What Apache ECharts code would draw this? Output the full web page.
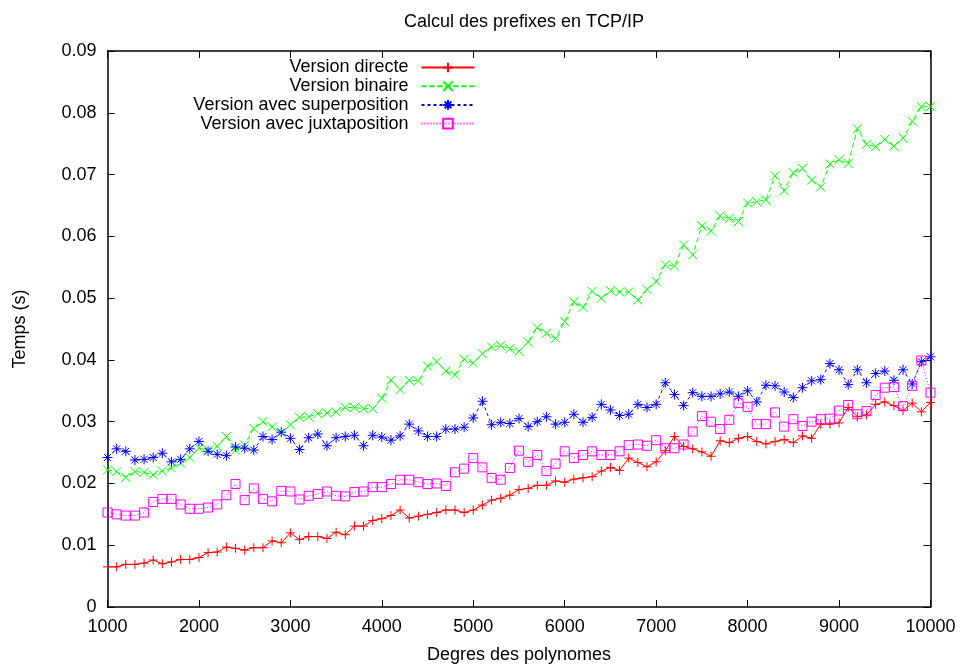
<!DOCTYPE html>
<html>
<head>
<meta charset="utf-8">
<script src="https://cdn.jsdelivr.net/npm/echarts@6/dist/echarts.min.js"></script>
<style>html,body{margin:0;padding:0;background:#fff;}#c{width:962px;height:669px;}</style>
</head>
<body>
<div id="c"></div>
<script>
const titleText = 'Calcul des prefixes en TCP/IP';
const xAxisName = 'Degres des polynomes';
const yAxisName = 'Temps (s)';
const seriesNames = ['Version directe', 'Version binaire', 'Version avec superposition', 'Version avec juxtaposition'];
const yTickLabels = ['0', '0.01', '0.02', '0.03', '0.04', '0.05', '0.06', '0.07', '0.08', '0.09'];
const xTickLabels = ['1000', '2000', '3000', '4000', '5000', '6000', '7000', '8000', '9000', '10000'];

const degrees = [
  1000,1100,1200,1300,1400,1500,1600,1700,1800,1900,
  2000,2100,2200,2300,2400,2500,2600,2700,2800,2900,
  3000,3100,3200,3300,3400,3500,3600,3700,3800,3900,
  4000,4100,4200,4300,4400,4500,4600,4700,4800,4900,
  5000,5100,5200,5300,5400,5500,5600,5700,5800,5900,
  6000,6100,6200,6300,6400,6500,6600,6700,6800,6900,
  7000,7100,7200,7300,7400,7500,7600,7700,7800,7900,
  8000,8100,8200,8300,8400,8500,8600,8700,8800,8900,
  9000,9100,9200,9300,9400,9500,9600,9700,9800,9900,
  10000
];

const directe = [
  0.0065,0.0065,0.0069,0.0069,0.0071,0.0076,0.0070,0.0073,0.0077,0.0077,
  0.0080,0.0088,0.0089,0.0097,0.0095,0.0092,0.0096,0.0096,0.0107,0.0104,
  0.0120,0.0109,0.0114,0.0114,0.0111,0.0121,0.0117,0.0131,0.0131,0.0140,
  0.0143,0.0148,0.0157,0.0144,0.0147,0.0150,0.0153,0.0157,0.0157,0.0153,
  0.0157,0.0165,0.0173,0.0176,0.0181,0.0190,0.0192,0.0197,0.0197,0.0204,
  0.0202,0.0207,0.0209,0.0211,0.0220,0.0226,0.0221,0.0241,0.0234,0.0227,
  0.0235,0.0253,0.0276,0.0260,0.0256,0.0251,0.0244,0.0269,0.0266,0.0273,
  0.0276,0.0268,0.0264,0.0268,0.0271,0.0266,0.0277,0.0273,0.0296,0.0296,
  0.0298,0.0323,0.0308,0.0311,0.0328,0.0332,0.0326,0.0318,0.0330,0.0316,
  0.0331
];

const binaire = [
  0.0222,0.0219,0.0210,0.0219,0.0218,0.0214,0.0220,0.0225,0.0233,0.0242,
  0.0257,0.0254,0.0260,0.0276,0.0254,0.0262,0.0289,0.0300,0.0292,0.0282,
  0.0295,0.0307,0.0308,0.0313,0.0314,0.0316,0.0323,0.0323,0.0321,0.0321,
  0.0338,0.0367,0.0352,0.0367,0.0366,0.0390,0.0397,0.0382,0.0376,0.0401,
  0.0395,0.0410,0.0421,0.0423,0.0418,0.0414,0.0429,0.0452,0.0443,0.0435,
  0.0462,0.0494,0.0485,0.0511,0.0500,0.0512,0.0510,0.0510,0.0497,0.0514,
  0.0527,0.0554,0.0552,0.0586,0.0570,0.0617,0.0609,0.0633,0.0629,0.0624,
  0.0654,0.0656,0.0659,0.0698,0.0674,0.0703,0.0710,0.0691,0.0680,0.0717,
  0.0724,0.0718,0.0774,0.0749,0.0745,0.0757,0.0746,0.0759,0.0786,0.0810,
  0.0810
];

const superposition = [
  0.0242,0.0256,0.0252,0.0238,0.0239,0.0242,0.0249,0.0235,0.0239,0.0256,
  0.0268,0.0252,0.0247,0.0245,0.0259,0.0257,0.0254,0.0276,0.0271,0.0283,
  0.0273,0.0255,0.0274,0.0280,0.0261,0.0274,0.0276,0.0278,0.0261,0.0278,
  0.0275,0.0270,0.0277,0.0296,0.0285,0.0276,0.0276,0.0288,0.0288,0.0291,
  0.0306,0.0333,0.0295,0.0299,0.0297,0.0305,0.0292,0.0300,0.0308,0.0296,
  0.0299,0.0312,0.0299,0.0307,0.0328,0.0319,0.0310,0.0312,0.0328,0.0323,
  0.0328,0.0363,0.0344,0.0326,0.0347,0.0341,0.0341,0.0345,0.0348,0.0341,
  0.0350,0.0332,0.0359,0.0358,0.0348,0.0339,0.0355,0.0366,0.0368,0.0394,
  0.0384,0.0360,0.0384,0.0363,0.0378,0.0382,0.0367,0.0384,0.0361,0.0397,
  0.0405
];

const juxtaposition = [
  0.0153,0.0150,0.0148,0.0148,0.0153,0.0170,0.0175,0.0175,0.0166,0.0159,
  0.0159,0.0161,0.0166,0.0181,0.0199,0.0173,0.0192,0.0175,0.0171,0.0188,
  0.0187,0.0174,0.0180,0.0183,0.0187,0.0180,0.0179,0.0186,0.0187,0.0194,
  0.0194,0.0199,0.0206,0.0206,0.0202,0.0199,0.0200,0.0196,0.0218,0.0224,
  0.0241,0.0226,0.0209,0.0206,0.0225,0.0253,0.0235,0.0246,0.0220,0.0232,
  0.0252,0.0241,0.0246,0.0252,0.0246,0.0246,0.0252,0.0262,0.0263,0.0261,
  0.0270,0.0257,0.0257,0.0263,0.0284,0.0309,0.0300,0.0288,0.0303,0.0330,
  0.0324,0.0296,0.0296,0.0315,0.0292,0.0304,0.0293,0.0300,0.0304,0.0305,
  0.0318,0.0327,0.0312,0.0317,0.0343,0.0355,0.0356,0.0325,0.0358,0.0399,
  0.0347
];

const FONT = "'Liberation Sans', Arial, Helvetica, sans-serif";
const pair = arr => degrees.map((d, i) => [d, arr[i]]);

const SYM_PLUS = 'path://M5,0L5,10M0,5L10,5';
const SYM_X = 'path://M0,0L10,10M10,0L0,10';
const SYM_STAR = 'path://M5,0L5,10M0,5L10,5M1.5,1.5L8.5,8.5M8.5,1.5L1.5,8.5';
const SYM_BOX = 'path://M0,0L10,0L10,10L0,10Z';

function mkSeries(name, data, color, symbol, size, lineType) {
  return {
    name: name,
    type: 'line',
    data: pair(data),
    symbol: symbol,
    symbolSize: size,
    showAllSymbol: true,
    lineStyle: { color: color, width: 1, type: lineType },
    itemStyle: { color: symbol === SYM_BOX ? 'rgba(0,0,0,0)' : color, borderColor: color, borderWidth: 1 },
    emphasis: { disabled: true },
    z: 2
  };
}

const chart = echarts.init(document.getElementById('c'), null, { renderer: 'canvas' });

const axisLineStyle = { color: '#000', width: 1.5 };
const baseX = {
  type: 'value', min: 1000, max: 10000, interval: 1000,
  splitLine: { show: false },
  axisTick: { show: true, inside: true, length: 7, lineStyle: { color: '#000', width: 1 } },
  axisLine: { show: true, onZero: false, lineStyle: axisLineStyle }
};
const baseY = {
  type: 'value', min: 0, max: 0.09, interval: 0.01,
  splitLine: { show: false },
  axisTick: { show: true, inside: true, length: 7, lineStyle: { color: '#000', width: 1 } },
  axisLine: { show: true, onZero: false, lineStyle: axisLineStyle }
};

chart.setOption({
  animation: false,
  backgroundColor: '#fff',
  title: {
    text: titleText,
    left: 519, top: 8, textAlign: 'center',
    textStyle: { fontFamily: FONT, fontSize: 18, fontWeight: 'normal', color: '#000' }
  },
  grid: { left: 107.5, right: 31.5, top: 51, bottom: 60, containLabel: false },
  legend: {
    orient: 'vertical',
    align: 'right',
    right: 486.5,
    top: 58.5,
    padding: 0,
    itemWidth: 53,
    itemHeight: 12,
    itemGap: 0.7,
    selectedMode: false,
    textStyle: { fontFamily: FONT, fontSize: 18, color: '#000', padding: [0, 8, 0, 0] },
    data: seriesNames
  },
  xAxis: [
    Object.assign({}, baseX, {
      position: 'bottom',
      name: xAxisName, nameLocation: 'middle', nameGap: 39,
      nameTextStyle: { fontFamily: FONT, fontSize: 18, color: '#000' },
      axisLabel: {
        margin: 11, fontFamily: FONT, fontSize: 18, color: '#000',
        formatter: v => xTickLabels[Math.round((v - 1000) / 1000)] ?? ''
      }
    }),
    Object.assign({}, baseX, { position: 'top', axisLabel: { show: false } })
  ],
  yAxis: [
    Object.assign({}, baseY, {
      position: 'left',
      name: yAxisName, nameLocation: 'middle', nameGap: 78,
      nameTextStyle: { fontFamily: FONT, fontSize: 18, color: '#000' },
      axisLabel: {
        margin: 11, fontFamily: FONT, fontSize: 18, color: '#000',
        formatter: v => yTickLabels[Math.round(v * 100)] ?? ''
      }
    }),
    Object.assign({}, baseY, { position: 'right', axisLabel: { show: false } })
  ],
  series: [
    mkSeries(seriesNames[0], directe, '#ff0000', SYM_PLUS, 9, 'solid'),
    mkSeries(seriesNames[1], binaire, '#00ff00', SYM_X, 9, [5, 3]),
    mkSeries(seriesNames[2], superposition, '#0000ff', SYM_STAR, 10, [3, 3]),
    mkSeries(seriesNames[3], juxtaposition, '#ff00ff', SYM_BOX, 9, [1, 2])
  ]
});
</script>
</body>
</html>
